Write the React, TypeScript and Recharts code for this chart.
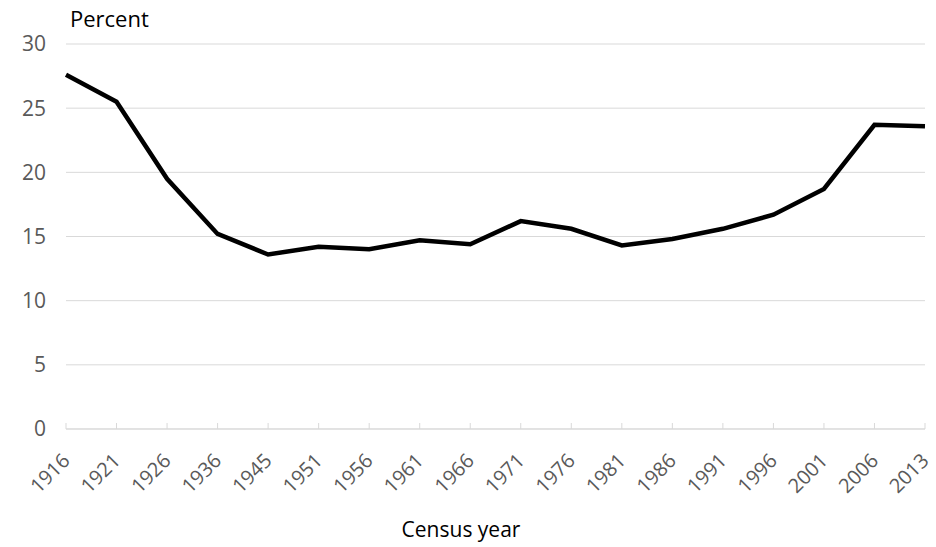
import { CartesianGrid, Line, LineChart, XAxis, YAxis } from 'recharts';

const YEARS = [
    '1916', '1921', '1926', '1936', '1945', '1951', '1956', '1961', '1966',
    '1971', '1976', '1981', '1986', '1991', '1996', '2001', '2006', '2013',
];

const PERCENT = [
    27.6, 25.5, 19.5, 15.2, 13.6, 14.2, 14.0, 14.7, 14.4,
    16.2, 15.6, 14.3, 14.8, 15.6, 16.7, 18.7, 23.7, 23.6,
];

const Y_TICKS = [0, 5, 10, 15, 20, 25, 30];

const FONT = '"Open Sans", "Noto Sans", sans-serif';
const GRID = '#d9d9d9';
const TICK_TEXT = '#595959';

const data = YEARS.map((year, i) => ({ year, value: PERCENT[i] }));

function YearTick({ x, y, payload }: any) {
    const tx = x + 5;
    const ty = y + 33;
    return (
        <g>
            <line x1={x} y1={y} x2={x} y2={y - 6} stroke={GRID} strokeWidth={1} />
            <text
                x={tx}
                y={ty}
                transform={`rotate(-45, ${tx}, ${ty})`}
                textAnchor="end"
                fontSize={20}
                fontFamily={FONT}
                fill={TICK_TEXT}
            >
                {payload.value}
            </text>
        </g>
    );
}

export default function App() {
    return (
        <div style={{ position: 'absolute', left: 0, top: 0, width: 936, height: 547, background: '#fff' }}>
            <LineChart
                width={936}
                height={547}
                data={data}
                margin={{ top: 44, right: 11, bottom: 38, left: 0 }}
            >
                <CartesianGrid vertical={false} stroke={GRID} strokeWidth={1} />
                <XAxis
                    dataKey="year"
                    height={80}
                    tickSize={0}
                    tickMargin={0}
                    tickLine={false}
                    axisLine={{ stroke: GRID }}
                    interval={0}
                    tick={<YearTick />}
                />
                <YAxis
                    width={66}
                    domain={[0, 30]}
                    ticks={Y_TICKS}
                    tickSize={0}
                    tickMargin={20}
                    tickLine={false}
                    axisLine={false}
                    tick={{ fontSize: 21, fontFamily: FONT, fill: TICK_TEXT }}
                />
                <Line
                    type="linear"
                    dataKey="value"
                    stroke="#000"
                    strokeWidth={4.5}
                    dot={false}
                    activeDot={false}
                    isAnimationActive={false}
                />
            </LineChart>
            <div
                style={{
                    position: 'absolute', left: 70, top: 3, fontFamily: FONT,
                    fontSize: 22, color: '#000', lineHeight: '30px',
                }}
            >
                Percent
            </div>
            <div
                style={{
                    position: 'absolute', left: 0, width: 936, top: 514, textAlign: 'center',
                    fontFamily: FONT, fontSize: 21, color: '#000', lineHeight: '30px',
                }}
            >
                <span style={{ marginLeft: -14 }}>Census year</span>
            </div>
        </div>
    );
}
